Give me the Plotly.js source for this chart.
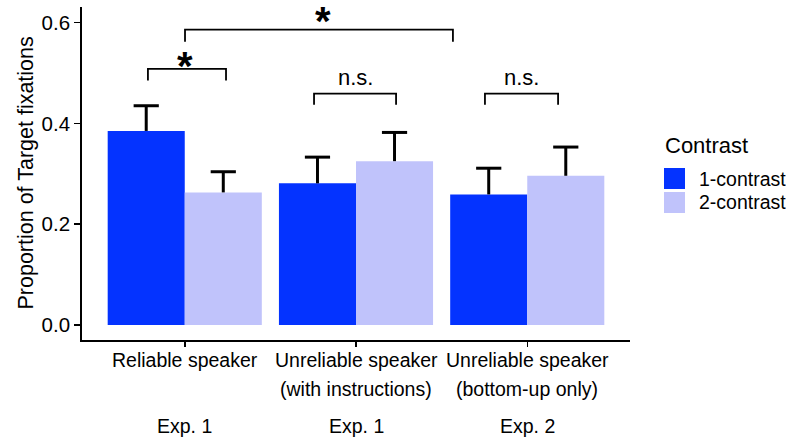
<!DOCTYPE html>
<html>
<head>
<meta charset="utf-8">
<script src="https://cdn.plot.ly/plotly-3.0.1.min.js"></script>
<style>html,body{margin:0;padding:0;background:#fff;}#chart{width:786px;height:439px;}</style>
</head>
<body>
<div id="chart"></div>
<script>
// ---- data ----
var conditions = ["Reliable speaker", "Unreliable speaker<br>(with instructions)", "Unreliable speaker<br>(bottom-up only)"];
var experiments = ["Exp. 1", "Exp. 1", "Exp. 2"];
var series = ["1-contrast", "2-contrast"];
var oneContrast = [0.385, 0.281, 0.259];
var oneContrastSE = [0.050, 0.052, 0.052];
var twoContrast = [0.263, 0.325, 0.296];
var twoContrastSE = [0.041, 0.057, 0.057];
var colors = ["#0433ff", "#c0c3fb"];
// significance brackets: [x start, x end, y top, y drop, label]
var brackets = [
  [-0.215, 0.241, 0.508, 0.485, "*"],
  [0.0015, 1.566, 0.586, 0.562, "*"],
  [0.755, 1.234, 0.459, 0.437, "n.s."],
  [1.753, 2.180, 0.459, 0.437, "n.s."]
];
// label nudges (px): [xshift, yshift]
var labelNudge = [[-2, -21], [4, -15], [0, 2], [0, 2]];

var FONT = "Liberation Sans, Arial, sans-serif";
var barW = 0.45;
var idx = conditions.map(function(_, i){ return i; });
var vals = [oneContrast, twoContrast];
var ses = [oneContrastSE, twoContrastSE];
var offs = [-barW/2, barW/2];

var traces = [];
vals.forEach(function(v, s){
  var xs = idx.map(function(i){ return i + offs[s]; });
  traces.push({
    type: "bar", name: series[s], x: xs, y: v, width: barW,
    marker: {color: colors[s], line: {width: 0}},
    error_y: {type: "data", symmetric: false, array: ses[s], arrayminus: ses[s].map(function(){return 0;}),
              width: 0, thickness: 3, color: "#000"},
    showlegend: false, hoverinfo: "x+y"
  });
});
vals.forEach(function(v, s){
  var xs = idx.map(function(i){ return i + offs[s]; });
  traces.push({
    type: "scatter", mode: "markers", x: xs, y: v.map(function(y, i){ return y + ses[s][i]; }),
    marker: {symbol: "line-ew", size: 18, color: "#000", line: {width: 3, color: "#000"}},
    showlegend: false, hoverinfo: "skip", cliponaxis: false
  });
});

var shapes = [];
var annotations = [];
brackets.forEach(function(b, k){
  shapes.push({type: "path", xref: "x", yref: "y",
    path: "M" + b[0] + "," + b[3] + " L" + b[0] + "," + b[2] + " L" + b[1] + "," + b[2] + " L" + b[1] + "," + b[3],
    line: {color: "#000", width: 1.8}});
  var star = b[4] === "*";
  annotations.push({xref: "x", yref: "y", x: (b[0] + b[1]) / 2, y: b[2], text: star ? "<b>*</b>" : b[4], showarrow: false,
    xanchor: "center", yanchor: "bottom", xshift: labelNudge[k][0], yshift: labelNudge[k][1],
    font: {family: FONT, size: star ? 40 : 22, color: "#000"}});
});
// category labels
idx.forEach(function(i){
  var lines = conditions[i].split("<br>");
  lines.forEach(function(t, k){
    annotations.push({xref: "x", yref: "paper", x: i, y: 0, text: t, showarrow: false,
      xanchor: "center", yanchor: "middle", yshift: -20 - 29 * k,
      font: {family: FONT, size: 19.5, color: "#000"}});
  });
  annotations.push({xref: "x", yref: "paper", x: i, y: 0, text: experiments[i], showarrow: false,
    xanchor: "center", yanchor: "middle", yshift: -86,
    font: {family: FONT, size: 19.5, color: "#000"}});
});
// y title
annotations.push({xref: "paper", yref: "paper", x: -0.104, y: 0.5, text: "Proportion of Target fixations",
  textangle: -90, showarrow: false, xanchor: "center", yanchor: "middle",
  font: {family: FONT, size: 21.5, color: "#000"}});
// legend (manual, large swatches)
annotations.push({xref: "paper", yref: "paper", x: (663 - 82) / 548, y: (340 - 145) / 333, text: "Contrast",
  showarrow: false, xanchor: "left", yanchor: "middle", font: {family: FONT, size: 22, color: "#000"}});
series.forEach(function(name, s){
  var top = 168 + 24 * s;
  shapes.push({type: "rect", xref: "paper", yref: "paper",
    x0: (664 - 82) / 548, x1: (685 - 82) / 548, y0: (340 - top) / 333, y1: (340 - top - 21) / 333,
    fillcolor: colors[s], line: {width: 0}});
  annotations.push({xref: "paper", yref: "paper", x: (697 - 82) / 548, y: (340 - top - 10.5) / 333, text: name,
    showarrow: false, xanchor: "left", yanchor: "middle", font: {family: FONT, size: 19.5, color: "#000"}});
});

var layout = {
  width: 786, height: 439,
  margin: {l: 82, r: 156, t: 7, b: 99},
  paper_bgcolor: "#fff", plot_bgcolor: "#fff",
  barmode: "overlay",
  showlegend: false,
  font: {family: FONT, color: "#000"},
  xaxis: {range: [-0.6, 2.6], tickvals: idx, showticklabels: false, ticks: "outside", ticklen: 5, tickwidth: 1.5,
          tickcolor: "#000", showline: true, linecolor: "#000", linewidth: 1.8, showgrid: false, zeroline: false, fixedrange: true},
  yaxis: {range: [-0.03, 0.631], tickvals: [0, 0.2, 0.4, 0.6], ticktext: ["0.0", "0.2", "0.4", "0.6"],
          ticks: "outside", ticklen: 6, tickwidth: 1.5, tickcolor: "#000", showline: true, linecolor: "#000", linewidth: 1.8,
          showgrid: false, zeroline: false, tickfont: {family: FONT, size: 20.5, color: "#000"}, ticklabelstandoff: 0},
  shapes: shapes,
  annotations: annotations
};
Plotly.newPlot("chart", traces, layout, {displayModeBar: false, staticPlot: true});
</script>
</body>
</html>
